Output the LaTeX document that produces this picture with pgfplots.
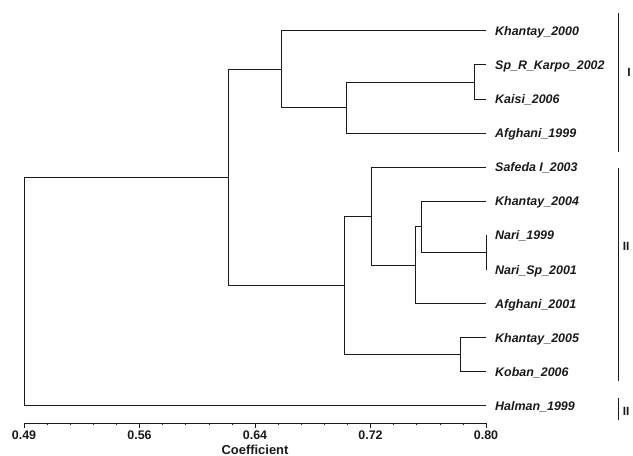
\documentclass[border=0pt]{standalone}
\usepackage{fontspec}
\setmainfont{Liberation Sans}
\usepackage{pgfplots}
\pgfplotsset{compat=1.18}

\definecolor{ink}{HTML}{1A1A1A}

\begin{document}
\begin{tikzpicture}
\path[use as bounding box] (0,0) rectangle (633bp,456bp);
\begin{axis}[
    at={(24bp,33bp)}, anchor=south west,
    scale only axis,
    width=462bp, height=421.1bp,
    xmin=0.49, xmax=0.80,
    ymin=0.15, ymax=12.5,
    y dir=reverse,
    clip=false,
    axis x line*=bottom,
    axis y line=none,
    axis line style={ink, line width=0.8bp},
    xtick={0.49,0.5675,0.645,0.7225,0.80},
    xticklabels={0.49,0.56,0.64,0.72,0.80},
    minor x tick num=4,
    xtick align=outside,
    major tick length=4.5bp,
    minor tick length=2bp,
    tick style={ink, line width=0.6bp},
    ytick=\empty,
    xticklabel style={font=\fontsize{12.5}{14}\selectfont\bfseries, text=ink},
    xlabel={Coefficient},
    xlabel style={font=\fontsize{13}{15}\selectfont\bfseries, text=ink,
        at={(axis description cs:0.5,0)}, anchor=base, yshift=-31bp},
    tree/.style={ink, line width=1bp, no marks, line join=miter},
]
% dendrogram brackets: leaf rows 1..12, joins at their similarity
\addplot[tree] coordinates {(0.80,2) (0.792,2) (0.792,3) (0.80,3)};
\addplot[tree] coordinates {(0.792,2.5) (0.7067,2.5) (0.7067,4) (0.80,4)};
\addplot[tree] coordinates {(0.80,1) (0.6625,1) (0.6625,3.25) (0.7067,3.25)};
\addplot[tree] coordinates {(0.80,7) (0.80,8)};
\addplot[tree] coordinates {(0.80,6) (0.757,6) (0.757,7.5) (0.80,7.5)};
\addplot[tree] coordinates {(0.757,6.75) (0.753,6.75) (0.753,9) (0.80,9)};
\addplot[tree] coordinates {(0.80,5) (0.7235,5) (0.7235,7.875) (0.753,7.875)};
\addplot[tree] coordinates {(0.80,10) (0.7826,10) (0.7826,11) (0.80,11)};
\addplot[tree] coordinates {(0.7235,6.4375) (0.7048,6.4375) (0.7048,10.5) (0.7826,10.5)};
\addplot[tree] coordinates {(0.6625,2.125) (0.6269,2.125) (0.6269,8.46875)};
\addplot[tree, line width=1.7bp] coordinates {(0.6269,8.46875) (0.7048,8.46875)};
\addplot[tree] coordinates {(0.6269,5.297) (0.49,5.297) (0.49,12) (0.80,12)};

% leaf names
\foreach \lab [count=\i] in {Khantay\_2000,Sp\_R\_Karpo\_2002,Kaisi\_2006,Afghani\_1999,
    Safeda I\_2003,Khantay\_2004,Nari\_1999,Nari\_Sp\_2001,Afghani\_2001,
    Khantay\_2005,Koban\_2006,Halman\_1999} {
  \edef\temp{\noexpand\node[anchor=base west, inner sep=0pt, xshift=9bp, yshift=-4.5bp,
      text=ink, font=\noexpand\fontsize{12.5}{14}\noexpand\selectfont\noexpand\bfseries\noexpand\itshape]
      at (axis cs:0.80,\i) {\lab};}
  \temp
}

% group bars
\draw[ink, line width=0.9bp] (axis cs:0.8886,0.472) -- (axis cs:0.8886,4.548);
\draw[ink, line width=0.9bp] (axis cs:0.8886,5.018) -- (axis cs:0.8886,11.26);
\draw[ink, line width=0.9bp] (axis cs:0.8886,11.76) -- (axis cs:0.8886,12.41);
\node[text=ink, font=\fontsize{12}{14}\selectfont\bfseries] at (axis cs:0.8960,2.23) {I};
\node[text=ink, font=\fontsize{12}{14}\selectfont\bfseries] at (axis cs:0.8940,7.33) {II};
\node[text=ink, font=\fontsize{12}{14}\selectfont\bfseries] at (axis cs:0.8940,12.17) {II};
\end{axis}
\end{tikzpicture}
\end{document}
